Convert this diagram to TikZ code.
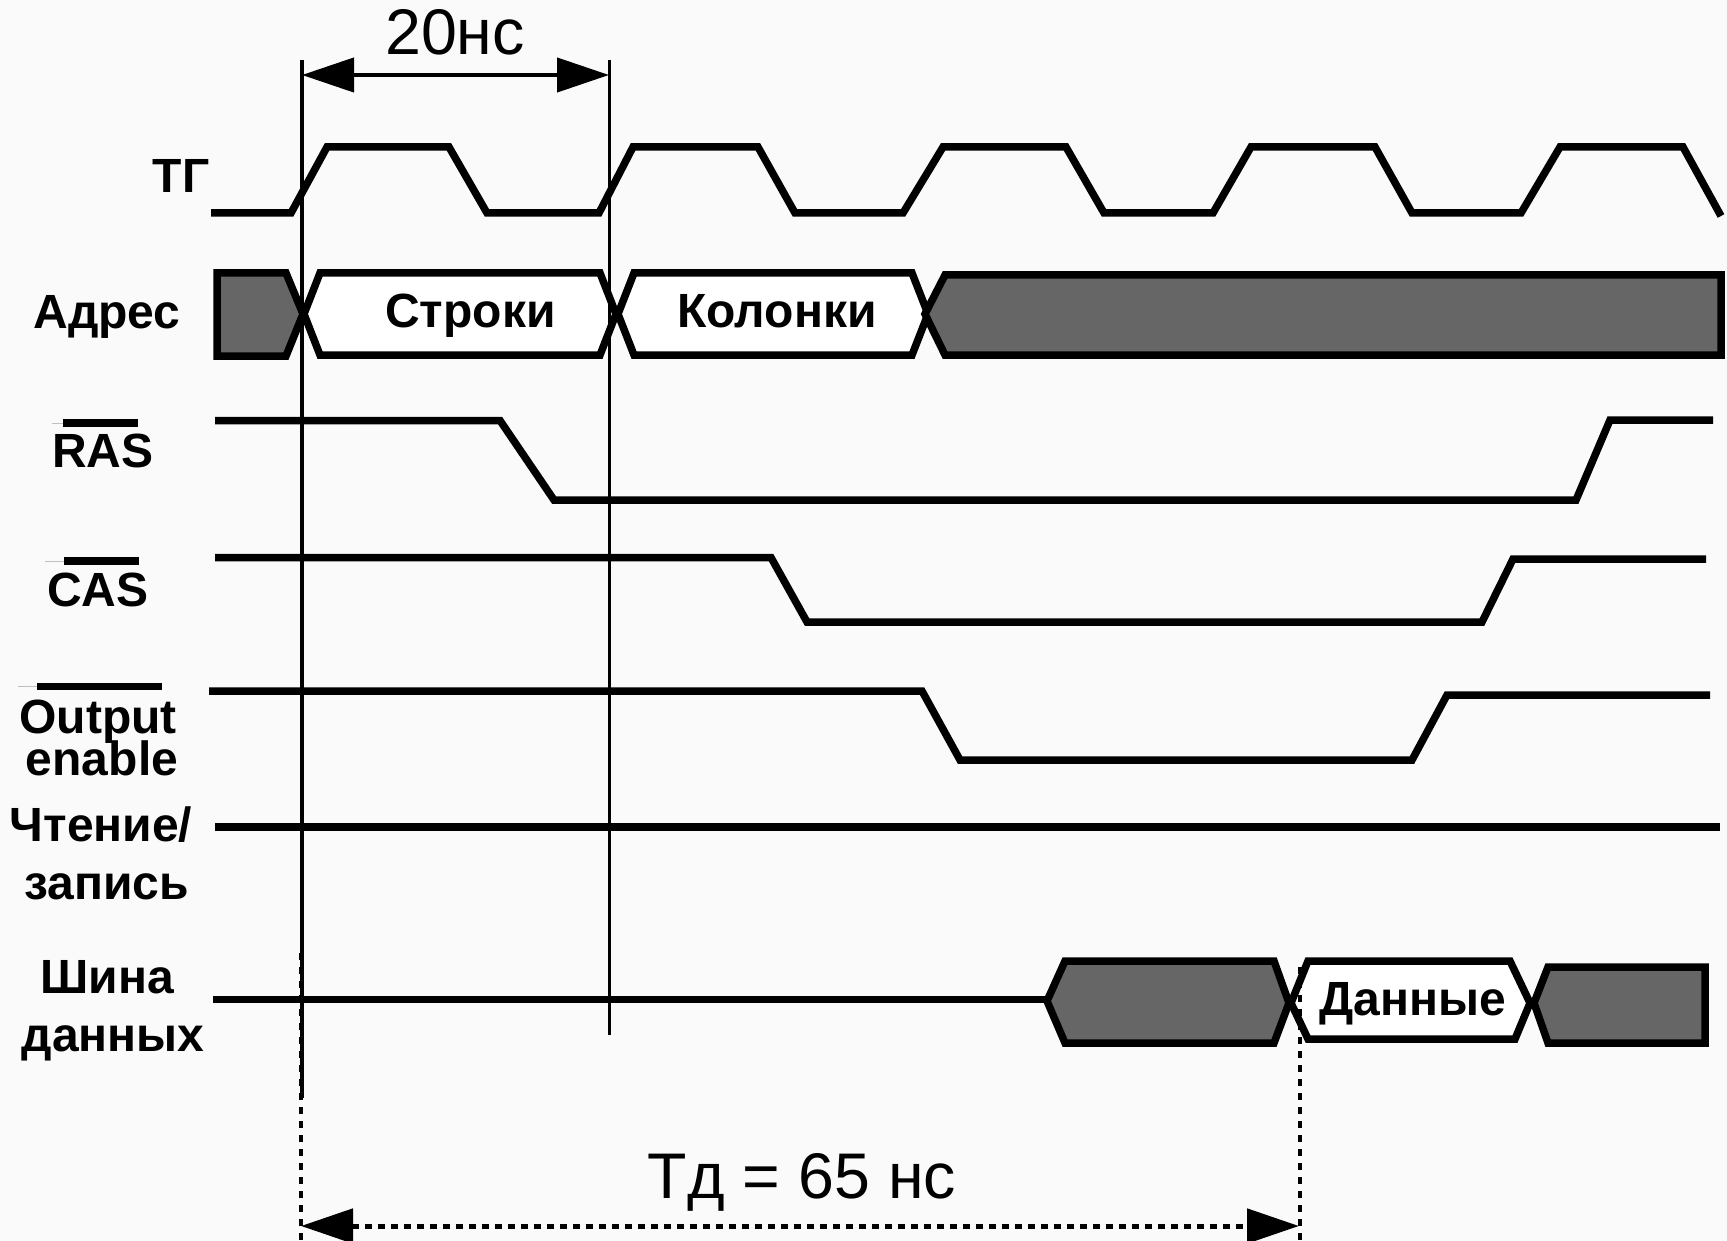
\documentclass[tikz,border=0pt]{standalone}
\usepackage{fontspec}
\setmainfont{Liberation Sans}
\usetikzlibrary{arrows.meta}
\definecolor{pagebg}{HTML}{FAFAFA}
\definecolor{blockgray}{HTML}{666666}
\tikzset{
  wave/.style={line width=7.5pt,line join=miter,miter limit=10,black},
  busdark/.style={wave,fill=blockgray},
  buslight/.style={wave,fill=white},
  guide/.style={line width=3.6pt,black},
  dguide/.style={line width=4pt,black,dash pattern=on 7pt off 7pt},
  bartop/.style={line width=7.5pt,black},
  barfaint/.style={line width=1pt,black!25},
  lbl/.style={anchor=base,inner sep=0pt,font=\fontsize{48}{48}\selectfont\bfseries},
  timelbl/.style={anchor=base,inner sep=0pt,font=\fontsize{64.5}{64.5}\selectfont},
  dimarrow/.style={line width=4.2pt,black,{Triangle[length=52pt,width=34pt]}-{Triangle[length=52pt,width=34pt]},shorten <=0pt,shorten >=0pt},
  ddimarrow/.style={dimarrow,line width=5pt,dash pattern=on 7pt off 6pt},
}
\begin{document}
\begin{tikzpicture}[x=1pt,y=-1pt]
\useasboundingbox (0,0) rectangle (1727,1241);
\fill[pagebg] (0,0) rectangle (1727,1241);

% clock
\draw[wave] (211,213) -- (291,213) -- (327,147) -- (449,147) -- (487,213)
  -- (599,213) -- (633,147) -- (758,147) -- (795,213)
  -- (903,213) -- (943,147) -- (1066,147) -- (1104,213)
  -- (1213,213) -- (1251,147) -- (1375,147) -- (1412,213)
  -- (1521,213) -- (1560,147) -- (1683,147) -- (1721,216);

% address bus
\draw[busdark] (217,273) -- (286,273) -- (303,314) -- (286,356) -- (217,356) -- cycle;
\draw[buslight] (304,314) -- (320,273) -- (600,273) -- (616,314) -- (600,355) -- (320,355) -- cycle;
\draw[buslight] (618,314) -- (634,273) -- (912,273) -- (928,314) -- (912,355) -- (634,355) -- cycle;
\draw[busdark] (925,314) -- (945,275) -- (1721,275) -- (1721,355) -- (945,355) -- cycle;

% control signals
\draw[wave] (215,420.5) -- (500,420.5) -- (554,500) -- (1576,500) -- (1610,420) -- (1713,420);
\draw[wave] (215,557.5) -- (771,557.5) -- (807,622) -- (1482,622) -- (1513,559) -- (1706,559);
\draw[wave] (209,691) -- (922,691) -- (960,760) -- (1412,760) -- (1447,695) -- (1710,695);
\draw[wave] (215,827) -- (1720,827);

% data bus
\draw[wave] (213,999.5) -- (1046,999.5);
\draw[busdark] (1047,1001) -- (1065,961) -- (1274,961) -- (1289,1003) -- (1274,1043) -- (1065,1043) -- cycle;
\draw[buslight] (1291,1003) -- (1308,961) -- (1510,961) -- (1530,1003) -- (1515,1039) -- (1308,1039) -- cycle;
\draw[busdark] (1534,1003) -- (1548,967) -- (1705,967) -- (1705,1043) -- (1548,1043) -- cycle;

% guides and dimensions
\coordinate (g1t) at (302,60);
\coordinate (g1b) at (302,1098);
\coordinate (g2t) at (609.5,60);
\coordinate (g2b) at (609.5,1035);
\coordinate (d1t) at (300.5,953);
\coordinate (d1b) at (300.5,1241);
\coordinate (d2t) at (1299.5,967);
\coordinate (d2b) at (1299.5,1241);
\coordinate (a1l) at (302,75);
\coordinate (a1r) at (609,75);
\coordinate (a2l) at (301,1226);
\coordinate (a2r) at (1299,1226);
\draw[dguide] (d1t) -- (d1b);
\draw[dguide] (d2t) -- (d2b);
\draw[guide] (g1t) -- (g1b);
\draw[guide] (g2t) -- (g2b);
\draw[dimarrow] (a1l) -- (a1r);
\draw[ddimarrow] (a2l) -- (a2r);

% overbars
\draw[barfaint] (52,423) -- (63,423);
\draw[bartop] (63,423) -- (138,423);
\draw[barfaint] (45,561) -- (64,561);
\draw[bartop] (64,561) -- (139,561);
\draw[barfaint] (18,686.5) -- (37,686.5);
\draw[bartop] (37,686.5) -- (162,686.5);

% labels
\node[lbl] (tg) at (181,193) {ТГ};
\node[lbl] (addr) at (107,329) {Адрес};
\node[lbl] (rows) at (470.5,327.5) {Строки};
\node[lbl] (cols) at (777,327.5) {Колонки};
\node[lbl] (ras) at (103,467) {RAS};
\node[lbl] (cas) at (98,606) {CAS};
\node[lbl] (oe1) at (98,733) {Output};
\node[lbl] (oe2) at (102,775) {enable};
\node[lbl] (rw1) at (101,841.5) {Чтение/};
\node[lbl] (rw2) at (106.5,899) {запись};
\node[lbl] (bus1) at (107,993) {Шина};
\node[lbl] (bus2) at (113,1051) {данных};
\node[lbl] (data) at (1412.5,1015) {Данные};
\node[timelbl] (t20) at (455,55) {20нс};
\node[timelbl] (t65) at (802,1198) {Тд = 65 нс};
\end{tikzpicture}
\end{document}
